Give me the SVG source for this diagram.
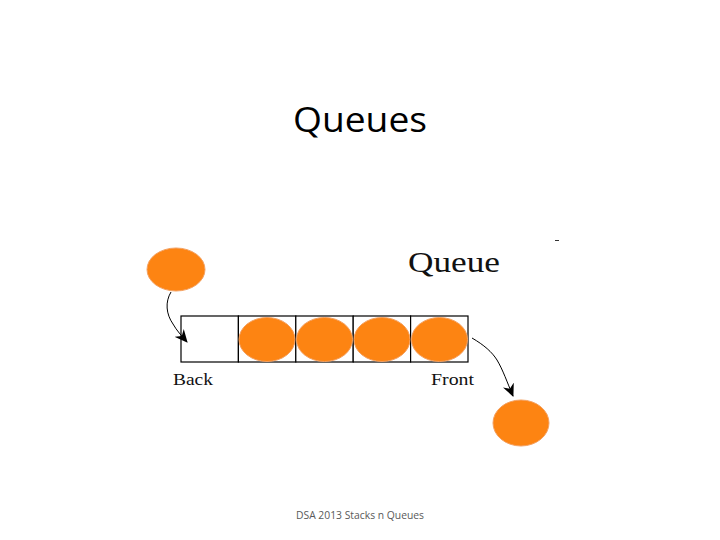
<svg xmlns="http://www.w3.org/2000/svg" width="720" height="540" viewBox="0 0 720 540">
<defs>
<style>
.ball{fill:#fd8412;stroke:#f4a060;stroke-width:1}
.cell{fill:#fff;stroke:#000;stroke-width:1.2}
.serif{font-family:"Liberation Serif","DejaVu Serif",serif;fill:#111}
.conn{fill:none;stroke:#000;stroke-width:1}
</style>
<marker id="ah" markerWidth="14" markerHeight="12" refX="12" refY="6" orient="auto" markerUnits="userSpaceOnUse">
<path d="M0,0 L13,6 L0,12 L4,6 Z" fill="#000"/>
</marker>
</defs>
<rect width="720" height="540" fill="#fff"/>
<text x="360" y="132" text-anchor="middle" font-family="'Open Sans','Liberation Sans',sans-serif" font-size="35" fill="#000" textLength="134" lengthAdjust="spacingAndGlyphs">Queues</text>
<g id="queue-label"><text class="serif" x="408" y="272" font-size="29" textLength="92" lengthAdjust="spacingAndGlyphs">Queue</text></g>
<line x1="555" y1="240.5" x2="559" y2="240.5" stroke="#333" stroke-width="1"/>
<g id="queue">
<rect class="cell" x="181" y="316" width="57.4" height="46"/>
<rect class="cell" x="238.4" y="316" width="57.4" height="46"/>
<rect class="cell" x="295.8" y="316" width="57.4" height="46"/>
<rect class="cell" x="353.2" y="316" width="57.4" height="46"/>
<rect class="cell" x="410.6" y="316" width="57.4" height="46"/>
</g>
<g id="items">
<ellipse class="ball" cx="267" cy="339.5" rx="28" ry="22"/>
<ellipse class="ball" cx="324.5" cy="339.5" rx="28" ry="22"/>
<ellipse class="ball" cx="382" cy="339.5" rx="28" ry="22"/>
<ellipse class="ball" cx="439.5" cy="339.5" rx="28" ry="22"/>
</g>
<g id="incoming"><ellipse class="ball" cx="176" cy="269.5" rx="29" ry="21.5"/></g>
<g id="outgoing"><ellipse class="ball" cx="521" cy="423" rx="28" ry="23"/></g>
<g id="connectors">
<path class="conn" d="M171,292 C165,302 166,314 173,324 C177,331 181,335 187,342" marker-end="url(#ah)"/>
<path class="conn" d="M472,338 C484,345 492,352 497,360 C503,370 507,382 513,396" marker-end="url(#ah)"/>
</g>
<g id="back-label"><text class="serif" x="173" y="385" font-size="17" fill="#222" textLength="40" lengthAdjust="spacingAndGlyphs">Back</text></g>
<g id="front-label"><text class="serif" x="431" y="385" font-size="17" fill="#222" textLength="43" lengthAdjust="spacingAndGlyphs">Front</text></g>
<text x="360" y="519" text-anchor="middle" font-family="'Open Sans','Liberation Sans',sans-serif" font-size="10.5" fill="#595959" textLength="128" lengthAdjust="spacingAndGlyphs">DSA 2013 Stacks n Queues</text>
</svg>
